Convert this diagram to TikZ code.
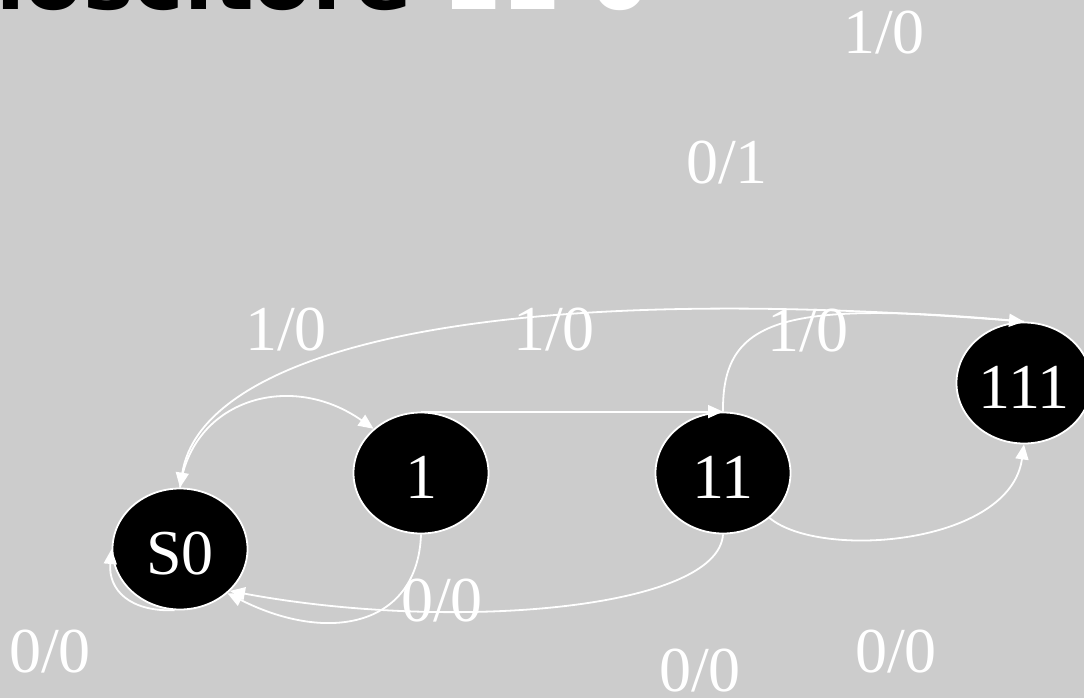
\documentclass[tikz,border=0pt]{standalone}
\usepackage{fontspec}
\setmainfont{Liberation Serif}
\newfontfamily\titlefont{DejaVu Sans}
\usetikzlibrary{shapes.geometric,arrows.meta}
\definecolor{bg}{HTML}{CCCCCC}
\newcommand\stxt[1]{\raisebox{-25pt}[17pt][17pt]{#1}}
\begin{document}
\begin{tikzpicture}[x=1pt,y=-1pt,
  state/.style={ellipse, draw=white, line width=1.8pt, fill=black, text=white,
    minimum width=135pt, minimum height=121pt, inner sep=0pt,
    font=\fontsize{64}{64}\selectfont},
  lbl/.style={text=white, inner sep=0pt, font=\fontsize{64}{64}\selectfont},
  ttl/.style={inner sep=0pt, font=\titlefont\bfseries\fontsize{85}{85}\selectfont},
  edge/.style={draw=white, line width=1.8pt, -{Triangle[length=15pt,width=13pt]}}]
\useasboundingbox (0,0) rectangle (1084,698);
\fill[bg] (0,0) rectangle (1084,698);
\clip (0,0) rectangle (1084,698);

% title (mostly cut off at the top)
\node[ttl, anchor=base east, text=black] (title) at (412,10) {Riconoscitore};
\node[ttl, anchor=base west, text=white] (titlenum) at (442,10) {11 0};

% states
\node[state] (S0) at (180,549) {\stxt{S0}};
\node[state] (n1) at (421,473) {\stxt{1}};
\node[state] (n11) at (723,473) {\stxt{11}};
\node[state] (n111) at (1024,383) {\stxt{111}};

% edges
\draw[edge] (n111.north) .. controls (450,275) and (200,360) .. (S0.north);
\draw[edge] (S0.north) .. controls (192,400) and (290,370) .. (n1.137);
\draw[edge] (n1.north) -- (n11.north);
\draw[edge] (n11.north) .. controls (722,320) and (780,300) .. (n111.north);
\draw[edge] (n11.-44) .. controls (820,560) and (1010,545) .. (n111.south);
\draw[edge] (n1.south) .. controls (418,625) and (330,645) .. (S0.-43);
\draw[edge] (n11.south) .. controls (718,610) and (450,632) .. (S0.-40);
\draw[edge] (S0.265) .. controls (130,612) and (108,590) .. (S0.180);

% labels
\node[lbl] (l1) at (884,33) {1/0};
\node[lbl] (l2) at (727,163) {0/1};
\node[lbl] (l3) at (286,330) {1/0};
\node[lbl] (l4) at (554,330) {1/0};
\node[lbl] (l5) at (808,331) {1/0};
\node[lbl] (l6) at (442,601) {0/0};
\node[lbl] (l7) at (50,652) {0/0};
\node[lbl] (l8) at (700,671) {0/0};
\node[lbl] (l9) at (896,652) {0/0};
\end{tikzpicture}
\end{document}
